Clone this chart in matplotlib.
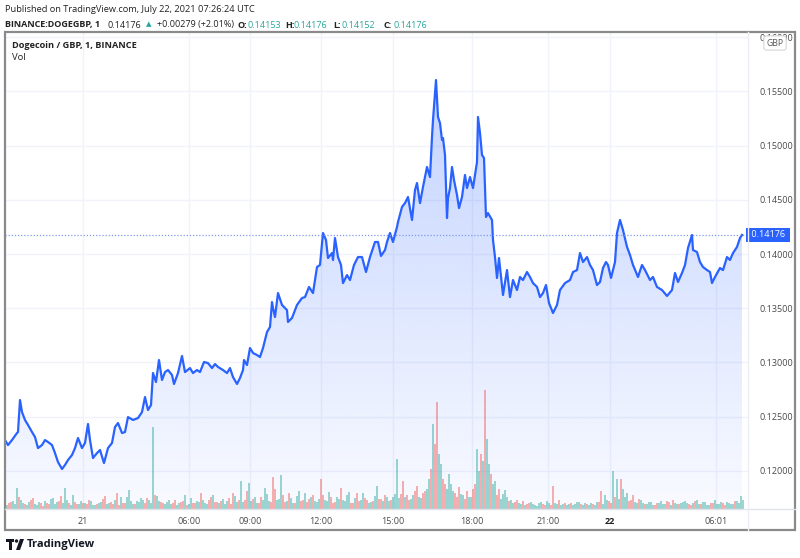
import numpy as np
import matplotlib
matplotlib.use('Agg')
import matplotlib.pyplot as plt
import matplotlib.patches as patches
import matplotlib.transforms as mtransforms

plt.rcParams['font.family'] = ['Open Sans', 'DejaVu Sans']

# Precio DOGE/GBP (indice de barra, precio)
bars = [0, 3, 7, 12, 13, 15, 17, 20, 23, 27, 30, 33, 37, 40, 43, 47, 50, 53, 57, 60, 63, 67,
        70, 73, 77, 80, 83, 85, 88, 92, 95, 99, 103, 107, 110, 113, 117, 120, 123, 128,
        133, 137, 140, 143, 146, 148, 151, 154, 157, 160, 163, 167, 169, 173, 177, 180, 185,
        188, 192, 195, 199, 203, 207, 210, 213, 218, 222, 225, 228, 232, 235, 238, 239, 242,
        245, 248, 252, 255, 258, 262, 265, 267, 268, 270, 273, 277, 282, 283, 287, 292, 297,
        300, 304, 308, 312, 315, 318, 321, 323, 327, 328, 330, 333, 336, 338, 342, 345, 349,
        353, 357, 361, 365, 370, 373, 376, 380, 382, 385, 388, 392, 393, 397, 400, 403, 407,
        410, 412, 415, 418, 422, 425, 427, 428, 431, 433, 435, 437, 438, 440, 442, 443, 445,
        447, 449, 452, 454, 457, 460, 462, 465, 468, 472, 473, 475, 477, 479, 481, 483, 487,
        488, 490, 492, 494, 498, 502, 505, 508, 512, 515, 518, 522, 525, 528, 532, 535, 538,
        541, 544, 548, 552, 555, 560, 565, 568, 572, 575, 578, 582, 585, 588, 592, 595, 598,
        601, 603, 606, 610, 612, 615, 618, 622, 625, 628, 633, 637, 640, 645, 648, 652, 657,
        662, 667, 670, 673, 677, 680, 683, 687, 688, 692, 695, 698, 702, 705, 707, 710, 715,
        718, 722, 725, 728, 732, 735, 737]
prices = [0.12284, 0.12238, 0.12284, 0.12349, 0.12358, 0.12653, 0.12542, 0.12469, 0.12423,
          0.12358, 0.12312, 0.12210, 0.12238, 0.12284, 0.12266, 0.12238, 0.12164, 0.12081,
          0.12017, 0.12054, 0.12100, 0.12146, 0.12210, 0.12303, 0.12210, 0.12257, 0.12432,
          0.12284, 0.12118, 0.12164, 0.12192, 0.12072, 0.12210, 0.12257, 0.12404, 0.12441,
          0.12349, 0.12358, 0.12496, 0.12469, 0.12487, 0.12542, 0.12681, 0.12561, 0.12607,
          0.12902, 0.12819, 0.13022, 0.12838, 0.12911, 0.12930, 0.12884, 0.12801, 0.12902,
          0.13059, 0.12911, 0.12948, 0.12902, 0.12930, 0.12911, 0.13004, 0.12994, 0.12948,
          0.12985, 0.12958, 0.12930, 0.12902, 0.12948, 0.12865, 0.12801, 0.12856, 0.12930,
          0.13022, 0.12976, 0.13133, 0.13087, 0.13068, 0.13050, 0.13133, 0.13280, 0.13327,
          0.13557, 0.13502, 0.13419, 0.13640, 0.13530, 0.13483, 0.13373, 0.13410, 0.13530,
          0.13594, 0.13603, 0.13696, 0.13640, 0.13880, 0.13899, 0.14194, 0.14129, 0.13963,
          0.14009, 0.13945, 0.14148, 0.13972, 0.13899, 0.13732, 0.13806, 0.13760, 0.13899,
          0.13972, 0.13972, 0.13834, 0.13972, 0.14111, 0.14111, 0.13982, 0.14037, 0.14111,
          0.14194, 0.14111, 0.14249, 0.14295, 0.14434, 0.14470, 0.14526, 0.14314, 0.14590,
          0.14655, 0.14470, 0.14618, 0.14803, 0.14710, 0.15079, 0.15236, 0.15605, 0.15264,
          0.15208, 0.15052, 0.15070, 0.14913, 0.14332, 0.14517, 0.14609, 0.14803, 0.14683,
          0.14544, 0.14424, 0.14526, 0.14729, 0.14609, 0.14710, 0.14609, 0.14849, 0.15264,
          0.15116, 0.14913, 0.14886, 0.14341, 0.14378, 0.14314, 0.14129, 0.13972, 0.13779,
          0.13963, 0.13622, 0.13852, 0.13603, 0.13760, 0.13668, 0.13788, 0.13760, 0.13834,
          0.13788, 0.13732, 0.13696, 0.13603, 0.13640, 0.13714, 0.13548, 0.13456, 0.13530,
          0.13668, 0.13732, 0.13760, 0.13834, 0.13852, 0.14009, 0.13926, 0.13972, 0.13899,
          0.13852, 0.13714, 0.13742, 0.13871, 0.13926, 0.13899, 0.13779, 0.13926, 0.14194,
          0.14314, 0.14221, 0.14065, 0.13991, 0.13899, 0.13788, 0.13899, 0.13852, 0.13760,
          0.13788, 0.13696, 0.13668, 0.13613, 0.13668, 0.13825, 0.13742, 0.13825, 0.13899,
          0.14055, 0.14175, 0.14037, 0.14018, 0.13926, 0.13880, 0.13852, 0.13834, 0.13732,
          0.13788, 0.13871, 0.13852, 0.13972, 0.13945, 0.14009, 0.14065, 0.14148, 0.14176]

# Volumen (dos series intercaladas) y direccion de la vela
vol_bars_a = list(range(0, 740, 4))
volume_a = [5, 6, 8, 21, 9, 5, 7, 11, 4, 6, 8, 5, 11, 7, 13, 21, 6, 14, 5, 8,
            6, 9, 4, 5, 7, 13, 6, 5, 16, 12, 6, 19, 5, 8, 11, 6, 9, 82, 13, 7,
            5, 9, 6, 4, 7, 14, 5, 6, 8, 16, 6, 9, 14, 7, 8, 5, 11, 16, 7, 28,
            9, 26, 10, 6, 12, 21, 8, 32, 9, 34, 7, 16, 6, 13, 8, 16, 10, 14, 7, 30,
            9, 17, 6, 12, 21, 8, 17, 6, 16, 9, 11, 6, 8, 23, 10, 14, 8, 12, 50, 15,
            12, 9, 14, 23, 11, 18, 30, 85, 107, 45, 25, 35, 18, 12, 15, 10, 12, 20, 60, 55,
            119, 45, 25, 14, 10, 19, 8, 6, 9, 5, 4, 6, 5, 3, 7, 4, 6, 23, 5, 4,
            6, 5, 4, 7, 5, 6, 4, 5, 7, 18, 14, 8, 38, 30, 30, 12, 8, 14, 6, 9,
            5, 7, 4, 6, 8, 5, 7, 9, 5, 6, 8, 5, 6, 9, 5, 7, 4, 6, 5, 7,
            4, 6, 5, 8, 13]
dir_a = ''.join([
    'uduuu', 'dudud', 'uduud', 'ududu', 'ududu', 'duddu', 'duuuu', 'duuud',
    'uudud', 'uudud', 'ududd', 'udduu', 'dudud', 'uuduu', 'dduud', 'uddud',
    'uudud', 'uuddu', 'dudud', 'duuud', 'ududu', 'duudu', 'duudu', 'dudud',
    'duudu', 'ududu', 'uduuu', 'duduu', 'duuud', 'uudud', 'uduud', 'udduu',
    'duudu', 'udduu', 'uduud', 'uuduu', 'duuuu'])

vol_bars_b = list(range(2, 740, 4))
volume_b = [4, 7, 5, 12, 6, 4, 9, 5, 7, 3, 6, 10, 5, 8, 6, 9, 4, 7, 5, 6,
            5, 8, 4, 6, 10, 5, 7, 9, 4, 6, 12, 8, 5, 7, 9, 11, 6, 14, 8, 6,
            7, 5, 9, 6, 8, 4, 11, 6, 7, 9, 5, 12, 7, 6, 10, 8, 5, 13, 9, 7,
            18, 8, 12, 6, 9, 15, 7, 20, 10, 14, 8, 11, 6, 18, 9, 7, 12, 8, 10, 14,
            8, 12, 7, 10, 9, 14, 6, 11, 8, 16, 9, 7, 13, 10, 8, 12, 9, 15, 11, 28,
            14, 10, 18, 12, 16, 20, 40, 65, 55, 30, 20, 25, 16, 22, 14, 18, 12, 25, 38, 48,
            70, 35, 28, 20, 15, 12, 9, 7, 6, 8, 5, 7, 4, 6, 5, 8, 4, 6, 9, 5,
            4, 6, 5, 7, 4, 5, 6, 4, 7, 5, 9, 6, 12, 10, 20, 16, 9, 7, 10, 6,
            5, 7, 4, 6, 5, 8, 4, 6, 5, 7, 6, 4, 8, 5, 7, 4, 6, 9, 5, 6,
            7, 5, 8, 6, 9]
dir_b = ''.join([
    'ududu', 'uduud', 'duudu', 'uudud', 'duuud', 'ududd', 'uuduu', 'dudud',
    'uudud', 'duduu', 'udduu', 'ududu', 'duudu', 'uddud', 'uudud', 'duuud',
    'udduu', 'ududu', 'duudu', 'uduud', 'dudud', 'uddud', 'uuddu', 'duduu',
    'ududu', 'uudud', 'duuud', 'ududu', 'uduuu', 'duudu', 'udduu', 'ududu',
    'uuduu', 'duudu', 'udduu', 'uduud', 'uuduu'])

price_ticks = [0.120, 0.125, 0.130, 0.135, 0.140, 0.145, 0.150, 0.155, 0.160]
time_tick_bars = [78, 184, 245, 316, 388, 467, 543, 605, 711]
time_tick_labels = ['21', '06:00', '09:00', '12:00', '15:00', '18:00', '21:00', '22', '06:01']
last_price = 0.14176

W, H = 800, 558
YMIN, YMAX = 0.11648, 0.16048
fig = plt.figure(figsize=(8, 5.58), dpi=100)
fig.patch.set_facecolor('white')


def px(x, y):
    return x / W, 1 - y / H


line_color = '#2962FF'
grid_color = '#f0f3fa'
up_color = '#26a69a'
down_color = '#ef5350'

ax = fig.add_axes([5 / W, (H - 509) / H, 743 / W, 477 / H])
for s in ax.spines.values():
    s.set_visible(False)
ax.set_facecolor('white')

# rejilla
for p in price_ticks:
    ax.axhline(p, color=grid_color, lw=1, zorder=0)
for b in time_tick_bars:
    ax.axvline(b, color=grid_color, lw=1, zorder=0)

# area con degradado
x = np.array(bars, dtype=float)
y = np.array(prices)
poly = ax.fill_between(x, y, YMIN, color='none', lw=0)
grad = np.zeros((256, 1, 4))
grad[:, 0, 0] = 41 / 255
grad[:, 0, 1] = 98 / 255
grad[:, 0, 2] = 1.0
grad[:, 0, 3] = np.linspace(0.28, 0.03, 256)
img = ax.imshow(grad, extent=[0, 743, YMIN, max(prices)], aspect='auto',
                origin='upper', zorder=1)
img.set_clip_path(poly.get_paths()[0], transform=ax.transData)
ax.set_xlim(0, 743)
ax.set_ylim(YMIN, YMAX)

# volumen
vax = ax.twinx()
vax.set_ylim(0, 477)
vax.set_xlim(0, 743)
vax.axis('off')
cols_a = [up_color if d == 'u' else down_color for d in dir_a]
cols_b = [up_color if d == 'u' else down_color for d in dir_b]
vax.bar(vol_bars_a, volume_a, width=1.1, color=cols_a, alpha=0.45, lw=0)
vax.bar(vol_bars_b, volume_b, width=1.1, color=cols_b, alpha=0.45, lw=0)

# linea de precio (encima del volumen)
pax = fig.add_axes(ax.get_position(), sharex=ax, sharey=ax)
pax.patch.set_visible(False)
pax.axis('off')
pax.plot(x, y, color=line_color, lw=1.6, solid_joinstyle='round')

# ultimo precio
pax.axhline(last_price, color='#7e9bf0', lw=0.9, ls=(0, (1, 1.5)))

# ejes
ax.set_xticks(time_tick_bars)
ax.set_xticklabels(time_tick_labels)
for lab in ax.get_xticklabels():
    lab.set_color('#4a4a4a')
    lab.set_fontsize(6.5)
    if lab.get_text() == '22':
        lab.set_fontweight('bold')
        lab.set_color('#222')
ax.tick_params(axis='x', length=0, pad=6)
ax.yaxis.tick_right()
ax.set_yticks(price_ticks)
ax.set_yticklabels(['{:.5f}'.format(p) for p in price_ticks])
ax.tick_params(axis='y', length=0, pad=8, labelsize=6.5, labelcolor='#4a4a4a')

trans = mtransforms.blended_transform_factory(pax.transAxes, pax.transData)
pax.text(1.0012, last_price, ' 0.14176 ', transform=trans, va='center', ha='left',
         color='white', fontsize=6.5, zorder=5, clip_on=False,
         bbox=dict(boxstyle='square,pad=0.3', fc=line_color, ec='none'))

# marco
fig.add_artist(patches.Rectangle(px(5, 530), 790 / W, 498 / H, transform=fig.transFigure,
                                 fill=False, ec='#8a8a8a', lw=1.6))
fig.add_artist(plt.Line2D([5 / W, 795 / W], [1 - 509 / H] * 2, color='#e0e3eb', lw=1))
fig.add_artist(plt.Line2D([748 / W] * 2, [1 - 32 / H, 1 - 530 / H], color='#eceef3', lw=1))

# etiqueta GBP
fig.text(775 / W, 1 - 43 / H, 'GBP', ha='center', va='center', fontsize=6.2, color='#555',
         zorder=10,
         bbox=dict(boxstyle='round,pad=0.3', fc='white', ec='#d6d6d6', lw=0.8))

# leyenda
fig.text(12 / W, 1 - 45 / H, 'Dogecoin / GBP, 1, BINANCE', fontsize=6.6, fontweight='bold',
         color='#222', va='center')
fig.text(12 / W, 1 - 58 / H, 'Vol', fontsize=6.8, color='#222', va='center')

# encabezado
fig.text(5 / W, 1 - 10 / H, 'Published on TradingView.com, July 22, 2021 07:26:24 UTC',
         fontsize=6.7, color='#222', va='center')

# (texto, peso, color, x inicial en px)
pieces = [('BINANCE:DOGEGBP, 1', 'bold', '#222', 5), ('0.14176', 'normal', '#222', 107),
          ('\u25B2', 'normal', up_color, 146), ('+0.00279 (+2.01%)', 'normal', '#222', 157),
          ('O:', 'bold', '#222', 237), ('0.14153', 'normal', up_color, 247),
          ('H:', 'bold', '#222', 285), ('0.14176', 'normal', up_color, 294),
          ('L:', 'bold', '#222', 333), ('0.14152', 'normal', up_color, 342),
          ('C:', 'bold', '#222', 383), ('0.14176', 'normal', up_color, 393)]
for txt, wt, col, x0 in pieces:
    fsize = 5.2 if txt == '\u25B2' else 6.5
    fig.text(x0 / W, 1 - 25 / H, txt, fontsize=fsize, fontweight=wt, color=col,
             va='center', family=['Open Sans', 'DejaVu Sans'])

# logo TradingView
ink = '#131722'
fig.add_artist(patches.Rectangle(px(6, 542), 8 / W, 3 / H, transform=fig.transFigure,
                                 color=ink, lw=0))
fig.add_artist(patches.Rectangle(px(9, 550), 3 / W, 9 / H, transform=fig.transFigure,
                                 color=ink, lw=0))
fig.add_artist(patches.Polygon([px(16, 550), px(20, 539), px(24, 539), px(20, 550)],
                               transform=fig.transFigure, color=ink, lw=0))
fig.add_artist(patches.Ellipse(px(16.5, 541), 3.4 / W, 3.4 / H, transform=fig.transFigure,
                               color=ink, lw=0))
fig.text(27 / W, 1 - 544 / H, 'TradingView', fontsize=8, fontweight='bold',
         color=ink, va='center')

fig.savefig('out.png', dpi=100, facecolor='white')
